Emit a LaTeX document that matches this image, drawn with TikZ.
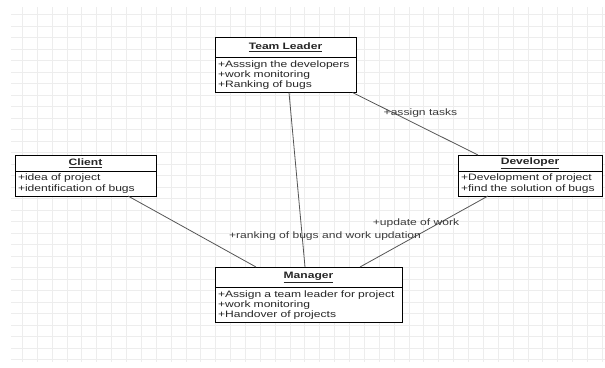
\documentclass[tikz,border=0pt]{standalone}
\usepackage{fontspec}
\setmainfont{Liberation Sans}[FakeStretch=1.3]
\usetikzlibrary{positioning}

\definecolor{gridgray}{HTML}{EDEDED}
\definecolor{linegray}{HTML}{555555}
\definecolor{labelgray}{HTML}{3A3A3A}

\tikzset{
	classhead/.style={draw=black, fill=white, line width=0.9pt, outer sep=0pt, inner sep=0pt,
		align=center, font=\fontsize{9.3}{10.3}\selectfont\bfseries, text=black!85},
	classattr/.style={draw=black, fill=white, line width=0.9pt, outer sep=0pt, inner xsep=3pt, inner ysep=0pt,
		align=left, font=\fontsize{9.3}{10.3}\selectfont, text=black!85},
	assoc/.style={draw=linegray, line width=0.8pt},
	assoclabel/.style={inner sep=0pt, font=\fontsize{9.3}{10.3}\selectfont, text=labelgray},
}

\begin{document}
\begin{tikzpicture}[x=1pt, y=-1pt]
	\useasboundingbox (0,0) rectangle (605,367);
	
	% background grid
	\foreach \i in {0,...,39}
		\draw[gridgray, line width=0.7pt] (22.3+14.87*\i,7) -- (22.3+14.87*\i,362);
	\foreach \j in {0,...,30}
		\draw[gridgray, line width=0.7pt] (11,14.7+11.49*\j) -- (605,14.7+11.49*\j);
	
	% classes
	\node[classhead, text width=141pt, minimum height=20.5pt, anchor=north west] (tlhead) at (215,37) {\underline{Team Leader}};
	\node[classattr, text width=135pt, minimum height=35pt, below=0pt of tlhead] (tlattr) {+Asssign the developers\\+work monitoring\\+Ranking of bugs};
	
	\node[classhead, text width=141pt, minimum height=16pt, anchor=north west] (clhead) at (15,155) {\underline{Client}};
	\node[classattr, text width=135pt, minimum height=25pt, below=0pt of clhead] (clattr) {+idea of project\\+identification of bugs};
	
	\node[classhead, text width=144pt, minimum height=16pt, anchor=north west] (devhead) at (458,155) {\underline{Developer}};
	\node[classattr, text width=138pt, minimum height=25pt, below=0pt of devhead] (devattr) {+Development of project\\+find the solution of bugs};
	
	\node[classhead, text width=187pt, minimum height=20.5pt, anchor=north west] (mgrhead) at (215,267) {\underline{Manager}};
	\node[classattr, text width=181pt, minimum height=35pt, below=0pt of mgrhead] (mgrattr) {+Assign a team leader for project\\+work monitoring\\+Handover of projects};
	
	% associations
	\draw[assoc] ([xshift=42.5pt]clattr.south) -- ([xshift=-52.5pt]mgrhead.north);
	\draw[assoc] ([xshift=3.5pt]tlattr.south) -- ([xshift=-3.5pt]mgrhead.north);
	\draw[assoc] ([xshift=67pt]tlattr.south) -- ([xshift=-52pt]devhead.north);
	\draw[assoc] ([xshift=-42pt]devattr.south) -- ([xshift=51.5pt]mgrhead.north);
	
	\node[assoclabel] (assign) at (420.5,113) {+assign tasks};
	\node[assoclabel] (update) at (416,223) {+update of work};
	\node[assoclabel] (ranking) at (325,236) {+ranking of bugs and work updation};
	
\end{tikzpicture}
\end{document}
